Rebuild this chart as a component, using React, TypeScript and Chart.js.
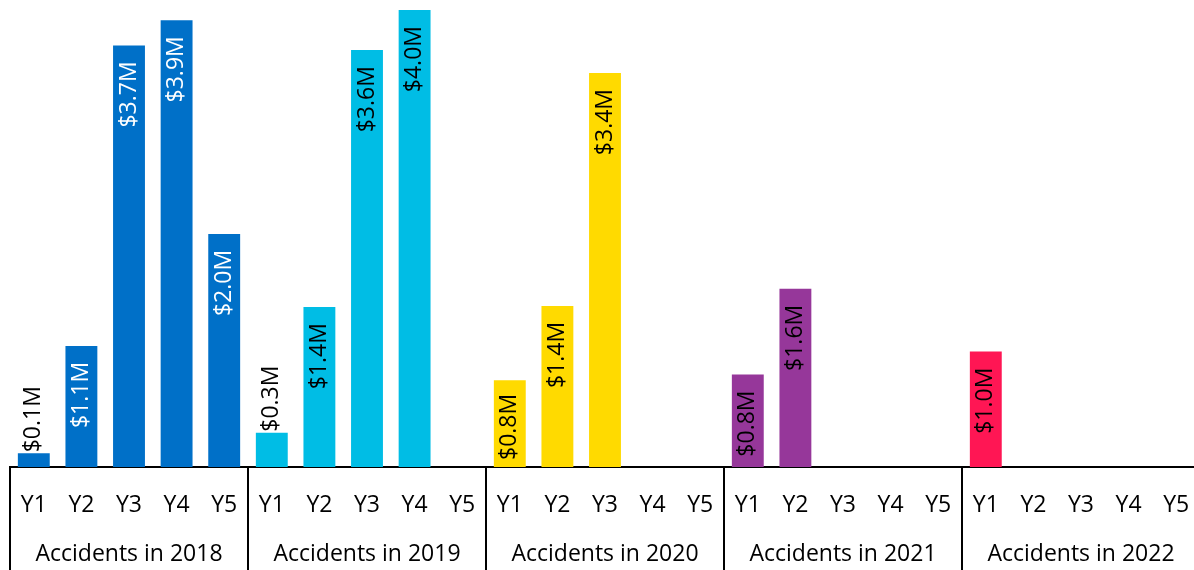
import React, { useEffect, useRef } from "react";
import { Chart, registerables } from "chart.js";

Chart.register(...registerables);

const groups = ["Accidents in 2018", "Accidents in 2019", "Accidents in 2020", "Accidents in 2021", "Accidents in 2022"];
const years = ["Y1", "Y2", "Y3", "Y4", "Y5"];
const groupColors = ["#0070C8", "#00BDE5", "#FFDA00", "#96379A", "#FF1654"];
const labelColors = ["#FFFFFF", "#000000", "#000000", "#000000", "#000000"];

const values2018 = [0.12, 1.06, 3.69, 3.91, 2.04];
const values2019 = [0.3, 1.4, 3.649, 4.0, null];
const values2020 = [0.76, 1.41, 3.449, null, null];
const values2021 = [0.81, 1.56, null, null, null];
const values2022 = [1.01, null, null, null, null];

const FONT = "'Open Sans', 'Noto Sans', sans-serif";
const FSIZE = 23;

const allValues = [...values2018, ...values2019, ...values2020, ...values2021, ...values2022];
const categories = groups.flatMap(() => years);
const barColors = groups.flatMap((_, g) => years.map(() => groupColors[g]));

const labelPlugin = {
  id: "barLabels",
  afterDatasetsDraw(chart: any) {
    const ctx = chart.ctx;
    const meta = chart.getDatasetMeta(0);
    ctx.save();
    ctx.font = `${FSIZE}px ${FONT}`;
    ctx.textBaseline = "middle";
    meta.data.forEach((bar: any, i: number) => {
      const v = allValues[i];
      if (v === null || v === undefined) return;
      const text = `$${v.toFixed(1)}M`;
      const tw = ctx.measureText(text).width;
      const h = bar.base - bar.y;
      const g = Math.floor(i / 5);
      ctx.save();
      if (h < tw + 12) {
        ctx.translate(bar.x, bar.y - 1);
        ctx.rotate(-Math.PI / 2);
        ctx.textAlign = "left";
        ctx.fillStyle = "#000000";
        ctx.fillText(text, 0, 0);
      } else {
        const off = Math.min(16, h - tw - 7);
        ctx.translate(bar.x, bar.y + off);
        ctx.rotate(-Math.PI / 2);
        ctx.textAlign = "right";
        ctx.fillStyle = labelColors[g];
        ctx.fillText(text, 0, 0);
      }
      ctx.restore();
    });
    ctx.restore();
  },
};

const separatorPlugin = {
  id: "separators",
  afterDraw(chart: any) {
    const ctx = chart.ctx;
    const x = chart.scales.x;
    const area = chart.chartArea;
    const step = (x.right - x.left) / categories.length;
    ctx.save();
    ctx.strokeStyle = "#000000";
    ctx.lineWidth = 2;
    for (let g = 0; g <= groups.length; g++) {
      const px = Math.round(x.getPixelForValue(g * years.length) - step / 2);
      ctx.beginPath();
      ctx.moveTo(px, area.bottom);
      ctx.lineTo(px, chart.height);
      ctx.stroke();
    }
    ctx.restore();
  },
};

function fixFit(h: number) {
  return (scale: any) => {
    scale.height = h;
    scale.paddingLeft = 0;
    scale.paddingRight = 0;
  };
}

export default function App() {
  const ref = useRef<HTMLCanvasElement | null>(null);
  useEffect(() => {
    if (!ref.current) return;
    const chart = new Chart(ref.current, {
      type: "bar",
      data: {
        labels: categories,
        datasets: [
          {
            data: allValues as any,
            backgroundColor: barColors,
            borderWidth: 0,
            barPercentage: 0.67,
            categoryPercentage: 1,
          },
        ],
      },
      options: {
        animation: false,
        responsive: true,
        maintainAspectRatio: false,
        layout: { padding: { left: 10, right: 0, top: 10, bottom: 3 } },
        plugins: { legend: { display: false }, tooltip: { enabled: false } },
        scales: {
          y: { display: false, min: 0, max: 4.0 },
          x: {
            weight: 0,
            afterFit: fixFit(52),
            grid: { display: false, drawTicks: false },
            border: { display: true, color: "#000000", width: 2 },
            ticks: {
              autoSkip: false,
              maxRotation: 0,
              padding: 25,
              color: "#000000",
              font: { family: FONT, size: FSIZE },
            },
          },
          x2: {
            type: "category",
            labels: groups,
            position: "bottom",
            offset: true,
            weight: 1,
            afterFit: fixFit(48),
            grid: { display: false, drawTicks: false },
            border: { display: false },
            ticks: {
              autoSkip: false,
              maxRotation: 0,
              padding: 22,
              color: "#000000",
              font: { family: FONT, size: FSIZE },
            },
          },
        } as any,
      },
      plugins: [labelPlugin, separatorPlugin],
    });
    return () => chart.destroy();
  }, []);
  return (
    <div style={{ position: "fixed", left: 0, top: 0, width: 1194, height: 570, overflow: "hidden", background: "#fff" }}>
      <div style={{ position: "relative", width: 1200, height: 570 }}>
        <canvas ref={ref} />
      </div>
    </div>
  );
}
